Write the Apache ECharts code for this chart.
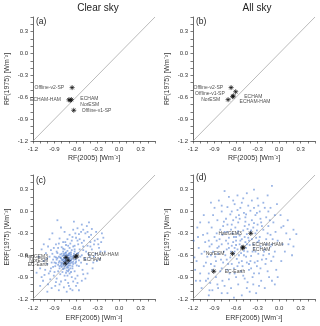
<!DOCTYPE html>
<html>
<head>
<meta charset="utf-8">
<script src="https://cdn.jsdelivr.net/npm/echarts@6/dist/echarts.min.js"></script>
<style>
  html, body { margin: 0; padding: 0; background: #fff; }
  #chart { width: 320px; height: 326px; }
</style>
</head>
<body>
<div id="chart"></div>
<script>
// tick labels shared by all four panels
const tickLabels = ['-1.2', '-0.9', '-0.6', '-0.3', '0.0', '0.3'];

// (a) clear sky RF
const clearRfNames = ['Offline-v2-SP', 'ECHAM-HAM', 'ECHAM', 'NorESM', 'Offline-v1-SP'];
const clearRf2005 = [-0.655, -0.70, -0.665, -0.68, -0.632];
const clearRf1975 = [-0.468, -0.635, -0.632, -0.642, -0.779];

// (b) all sky RF
const allRfNames = ['Offline-v2-SP', 'Offline-v1-SP', 'ECHAM', 'ECHAM-HAM', 'NorESM'];
const allRf2005 = [-0.669, -0.605, -0.638, -0.648, -0.711];
const allRf1975 = [-0.468, -0.525, -0.583, -0.592, -0.633];

// (c) clear sky ERF, model means
const clearErfNames = ['HadGEM3', 'NorESM', 'EC-Earth', 'ECHAM-HAM', 'ECHAM'];
const clearErf2005 = [-0.74, -0.71, -0.75, -0.59, -0.61];
const clearErf1975 = [-0.63, -0.67, -0.71, -0.61, -0.625];

// (d) all sky ERF, model means
const allErfNames = ['HadGEM3', 'ECHAM-HAM', 'ECHAM', 'NorESM', 'EC-Earth'];
const allErf2005 = [-0.395, -0.50, -0.51, -0.65, -0.911];
const allErf1975 = [-0.30, -0.49, -0.50, -0.578, -0.82];

// (c) individual ensemble members (ERF2005, ERF1975)
const clearErfMembers = [
  [-0.78,-0.66],[-0.75,-0.70],[-0.72,-0.64],[-0.70,-0.68],[-0.74,-0.62],[-0.80,-0.72],[-0.68,-0.71],[-0.76,-0.75],
  [-0.71,-0.60],[-0.66,-0.65],[-0.83,-0.68],[-0.79,-0.61],[-0.73,-0.77],[-0.69,-0.63],[-0.64,-0.69],[-0.77,-0.58],
  [-0.81,-0.64],[-0.72,-0.72],[-0.67,-0.59],[-0.75,-0.67],[-0.70,-0.74],[-0.62,-0.62],[-0.85,-0.73],[-0.78,-0.79],
  [-0.74,-0.56],[-0.65,-0.75],[-0.82,-0.59],[-0.71,-0.66],[-0.76,-0.63],[-0.69,-0.57],[-0.63,-0.58],[-0.87,-0.66],
  [-0.80,-0.76],[-0.73,-0.81],[-0.68,-0.78],[-0.60,-0.66],[-0.84,-0.62],[-0.77,-0.69],[-0.72,-0.54],[-0.66,-0.53],
  [-0.79,-0.83],[-0.89,-0.75],[-0.61,-0.71],[-0.75,-0.60],[-0.70,-0.80],[-0.86,-0.57],[-0.64,-0.61],[-0.81,-0.70],
  [-0.74,-0.73],[-0.67,-0.67],[-0.78,-0.55],[-0.69,-0.85],[-0.58,-0.63],[-0.83,-0.78],[-0.76,-0.52],[-0.62,-0.55],
  [-0.90,-0.70],[-0.72,-0.88],[-0.59,-0.58],[-0.88,-0.63],
  [-0.77,-0.64],[-0.73,-0.68],[-0.71,-0.70],[-0.69,-0.66],[-0.75,-0.65],[-0.79,-0.70],[-0.67,-0.62],[-0.72,-0.61],
  [-0.74,-0.71],[-0.70,-0.64],[-0.76,-0.68],[-0.68,-0.74],[-0.80,-0.66],[-0.66,-0.70],[-0.73,-0.59],[-0.78,-0.74],
  [-0.71,-0.77],[-0.82,-0.63],[-0.65,-0.63],[-0.74,-0.66],[-0.77,-0.60],[-0.70,-0.71],[-0.63,-0.66],[-0.84,-0.70],
  [-0.76,-0.78],[-0.69,-0.60],[-0.81,-0.74],[-0.72,-0.75],[-0.67,-0.56],[-0.61,-0.60],[-0.86,-0.64],[-0.75,-0.57],
  [-0.79,-0.67],[-0.68,-0.68],[-0.64,-0.72],[-0.73,-0.63],[-0.83,-0.75],[-0.71,-0.82],[-0.60,-0.69],[-0.88,-0.71],
  [-0.77,-0.72],[-0.70,-0.58],[-0.65,-0.78],[-0.80,-0.58],[-0.74,-0.84],[-0.62,-0.52],[-0.57,-0.57],[-0.85,-0.82],
  [-0.90,-0.62],[-0.56,-0.67],[-0.78,-0.51],[-0.69,-0.50],[-0.64,-0.48],[-0.92,-0.76],[-0.82,-0.86],[-0.76,-0.88],
  [-0.67,-0.83],[-0.54,-0.62],[-0.59,-0.74],[-0.87,-0.55],
  [-0.95,-0.78],[-0.92,-0.66],[-0.98,-0.85],[-0.91,-0.88],[-0.55,-0.52],[-0.52,-0.60],[-0.50,-0.48],[-0.57,-0.45],
  [-0.62,-0.47],[-0.68,-0.44],[-0.74,-0.46],[-0.80,-0.49],[-0.85,-0.50],[-0.93,-0.58],[-1.00,-0.72],[-1.03,-0.80],
  [-0.96,-0.93],[-0.87,-0.92],[-0.81,-0.96],[-0.75,-0.94],[-0.66,-0.90],[-0.62,-0.82],[-0.56,-0.75],[-0.53,-0.70],
  [-0.48,-0.64],[-0.46,-0.55],[-0.44,-0.47],[-0.49,-0.40],[-0.55,-0.38],[-0.60,-0.36],[-0.66,-0.40],[-0.72,-0.38],
  [-0.78,-0.42],[-0.88,-0.45],[-0.97,-0.62],[-1.05,-0.68],[-1.08,-0.90],[-0.99,-1.00],[-0.89,-1.02],[-0.77,-1.04],
  [-0.71,-0.98],[-0.64,-0.96],[-0.58,-0.88],[-0.51,-0.80],[-0.45,-0.72],[-0.41,-0.62],[-0.38,-0.52],[-0.40,-0.42],
  [-0.42,-0.35],[-0.47,-0.30],[-0.53,-0.28],[-0.61,-0.30],[-0.69,-0.32],[-0.83,-0.37],[-0.91,-0.50],[-1.02,-0.57],
  [-1.10,-0.78],[-1.06,-0.95],[-0.94,-1.05],[-0.84,-1.08],
  [-0.94,-0.70],[-0.96,-0.82],[-0.88,-0.97],[-0.70,-1.02],[-0.61,-0.92],[-0.50,-0.86],[-0.47,-0.66],[-0.43,-0.58],
  [-0.50,-0.53],[-0.52,-0.43],[-0.58,-0.40],[-0.65,-0.35],[-0.75,-0.42],[-0.84,-0.44],[-0.95,-0.53],[-1.01,-0.65],
  [-1.04,-0.87],[-0.58,-0.98],[-0.40,-0.48],[-0.35,-0.62],[-0.34,-0.40],[-0.29,-0.45],[-0.44,-0.28],[-0.56,-0.31],
  [-0.71,-0.47],[-0.90,-0.83],[-0.83,-1.00],[-0.65,-1.08],[-0.39,-0.32],[-0.26,-0.55],
  [-0.73,-1.10],[-0.68,-1.06],[-0.35,-0.45],[-0.33,-0.58],[-0.30,-0.38],[-0.28,-0.50],[-0.25,-0.42],[-0.22,-0.36],
  [-0.27,-0.65],[-0.36,-0.70],[-0.32,-0.28],[-0.38,-0.24],[-0.45,-0.20],[-0.52,-0.18],[-0.58,-0.23],[-0.64,-0.25],
  [-0.76,-0.28],[-0.86,-0.12],[-0.97,-0.38],[-1.05,-0.45],[-1.12,-0.62],[-1.15,-0.84],[-1.10,-1.02],[-1.00,-1.10],
  [-0.60,-1.02],[-0.52,-0.95],[-0.44,-0.85],[-0.37,-0.78],[-0.20,-0.55],[-0.24,-0.30],[-0.63,-0.14],[-0.50,-0.25],
  [-1.08,-0.52],[-0.93,-0.30],[-0.56,-1.08],[-0.47,-0.92],[-0.31,-0.68],[-0.42,-0.15],[-0.81,-0.22],[-0.99,-0.48]
];

// (d) individual ensemble members (ERF2005, ERF1975)
const allErfMembers = [
  [-0.52,-0.48],[-0.47,-0.42],[-0.58,-0.52],[-0.44,-0.55],[-0.60,-0.40],[-0.38,-0.38],[-0.55,-0.33],[-0.66,-0.47],
  [-0.49,-0.60],[-0.41,-0.46],[-0.63,-0.58],[-0.35,-0.50],[-0.57,-0.27],[-0.70,-0.36],[-0.45,-0.31],[-0.30,-0.42],
  [-0.68,-0.63],[-0.52,-0.68],[-0.39,-0.61],[-0.61,-0.22],[-0.48,-0.20],[-0.33,-0.30],[-0.73,-0.52],[-0.26,-0.48],
  [-0.54,-0.40],[-0.43,-0.36],[-0.65,-0.30],[-0.36,-0.22],[-0.59,-0.65],[-0.46,-0.50],[-0.71,-0.44],[-0.29,-0.58],
  [-0.50,-0.26],[-0.62,-0.50],[-0.40,-0.68],[-0.56,-0.60],[-0.75,-0.60],[-0.32,-0.36],[-0.44,-0.24],[-0.67,-0.25],
  [-0.55,-0.45],[-0.42,-0.40],[-0.62,-0.55],[-0.48,-0.35],[-0.36,-0.45],[-0.58,-0.30],[-0.70,-0.50],[-0.33,-0.55],
  [-0.46,-0.62],[-0.52,-0.38],[-0.64,-0.42],[-0.39,-0.26],[-0.28,-0.40],[-0.56,-0.70],[-0.73,-0.66],[-0.45,-0.45],
  [-0.60,-0.35],[-0.31,-0.26],[-0.49,-0.54],[-0.67,-0.55],
  [-0.80,-0.45],[-0.85,-0.58],[-0.78,-0.70],[-0.88,-0.68],[-0.92,-0.55],[-0.83,-0.38],[-0.76,-0.28],[-0.72,-0.18],
  [-0.64,-0.12],[-0.55,-0.10],[-0.47,-0.08],[-0.38,-0.12],[-0.30,-0.18],[-0.22,-0.25],[-0.18,-0.38],[-0.20,-0.52],
  [-0.24,-0.66],[-0.31,-0.75],[-0.42,-0.80],[-0.53,-0.82],[-0.63,-0.78],[-0.72,-0.80],[-0.82,-0.82],[-0.95,-0.72],
  [-1.00,-0.62],[-0.97,-0.48],[-0.90,-0.35],[-0.82,-0.25],[-0.77,-0.14],[-0.68,-0.04],[-0.58,0.02],[-0.49,-0.02],
  [-0.40,0.01],[-0.33,-0.05],[-0.26,-0.10],[-0.15,-0.20],[-0.12,-0.32],[-0.10,-0.45],[-0.14,-0.58],[-0.19,-0.72],
  [-0.28,-0.85],[-0.37,-0.90],[-0.48,-0.92],[-0.60,-0.90],[-0.70,-0.93],[-0.79,-0.95],[-0.88,-0.90],[-0.98,-0.85],
  [-1.05,-0.75],[-1.08,-0.58],[-1.03,-0.42],[-0.94,-0.22],[-0.86,-0.12],[-0.80,0.00],[-0.72,0.06],[-0.62,0.10],
  [-0.52,0.12],[-0.43,0.08],[-0.35,0.05],[-0.27,0.00],[-0.18,-0.08],[-0.08,-0.15],[-0.05,-0.28],[-0.02,-0.40],
  [-0.06,-0.55],[-0.11,-0.68],[-0.16,-0.82],[-0.25,-0.95],[-0.36,-1.00],[-0.45,-1.05],[-0.57,-1.00],[-0.67,-1.05],
  [-0.76,-1.02],[-0.86,-1.00],[-0.93,-1.08],[-1.02,-0.95],[-1.10,-0.85],[-1.15,-0.68],[-1.12,-0.50],[-1.06,-0.32],
  [-0.84,-0.48],[-0.95,-0.60],[-0.90,-0.75],[-0.80,-0.78],[-0.71,-0.72],[-0.62,-0.85],[-0.50,-0.88],[-0.39,-0.78],
  [-0.30,-0.68],[-0.21,-0.55],[-0.16,-0.30],[-0.25,-0.15],[-0.35,-0.16],[-0.46,-0.04],[-0.56,-0.05],[-0.66,-0.18],
  [-0.78,-0.20],[-0.87,-0.30],[-0.98,-0.40],[-1.02,-0.70],
  [-0.98,-0.15],[-0.90,0.05],[-0.84,0.15],[-0.70,0.20],[-0.58,0.22],[-0.45,0.25],[-0.30,0.18],[-0.22,0.12],
  [-0.12,0.05],[-0.10,0.35],[-0.03,0.10],[0.02,-0.05],[0.06,-0.20],[0.10,-0.30],[0.15,-0.38],[0.24,-0.31],
  [0.20,-0.48],[0.08,-0.55],[0.03,-0.68],[-0.04,-0.80],[-0.10,-0.95],[-0.20,-1.05],[-0.32,-1.12],[-0.52,-1.15],
  [-0.63,-1.18],[-0.80,-1.12],[-0.97,-1.08],[-1.08,-1.05],[-1.16,-0.95],[-1.18,-0.63],[-1.19,-0.40],[-1.14,-0.22],
  [-1.05,-0.05],[-0.95,0.12],[-0.76,0.28],[-0.35,0.30],[-0.16,0.22],[0.12,-0.12],[0.18,-0.60],[-0.06,-1.00],
  [-1.10,-0.95],[-0.98,-1.15],[-0.85,-1.05],[-0.72,-1.12],[-0.41,-1.10],[-0.28,-1.02],[-0.14,-0.90],[-0.02,-0.90],
  [0.05,-0.45],[0.13,-0.45],[0.20,-0.25],[0.03,-0.22],[-0.06,-0.05],[-0.15,0.00],[-0.20,0.05],[-0.38,0.15],
  [-0.50,0.18],[-0.64,0.15],[-0.80,0.08],[-0.92,-0.05],
  [-0.66,-0.72],[-0.74,-0.10],[-0.40,-0.28],[-0.27,-0.35],[-0.51,-0.75],[-0.86,-0.50],[-0.93,-0.80],[-0.35,-0.85],
  [-0.12,-0.48],[-0.57,-0.15],[-0.22,-0.60],[-0.81,-0.66],[-0.63,-0.35],[-0.47,-0.14],[-0.69,-0.85],[-1.00,-0.30],
  [-0.29,0.08],[-0.08,-0.62],[-0.44,-0.97],[-0.89,-0.62],[-0.54,0.05],[-0.18,-0.45],[-0.74,-0.40],[-0.37,-0.55],
  [-0.60,-0.46],[-0.42,-0.72],[-0.79,-0.32],[-0.24,-0.20],[-0.66,0.00],[-0.96,-0.98],
  [-1.10,-0.15],[-1.13,-0.35],[-1.17,-0.80],[-1.04,-0.55],[-0.99,-0.92],[-0.58,-0.75],[-0.34,-0.70],[-0.18,-0.65],
  [-0.09,-0.38],[-0.13,-0.12],[-0.31,-0.02],[-0.42,-0.18],[-0.60,-0.08],[-0.72,-0.28],[-0.87,-0.40],[-0.94,-0.45],
  [-0.77,-0.55],[-0.53,-0.57],[-0.26,-0.78],[-0.45,-0.70]
];

const FONT = '"Liberation Sans", Arial, sans-serif';
const AXIS_MIN = -1.2;
const AXIS_MAX = 0.5;

// label placement per panel: [position, distance, dy]
const labelLayout = {
  a: { 'Offline-v2-SP': ['left', 5, 0], 'ECHAM-HAM': ['left', 5, 0], 'ECHAM': ['right', 6, -1],
       'NorESM': ['right', 7, 4], 'Offline-v1-SP': ['right', 5, 0] },
  b: { 'Offline-v2-SP': ['left', 5, 0], 'Offline-v1-SP': ['left', 8, 2], 'ECHAM': ['right', 8, 1],
       'ECHAM-HAM': ['right', 4, 5], 'NorESM': ['left', 5, 0] },
  c: { 'HadGEM3': ['left', 15, -1], 'NorESM': ['left', 17, 0], 'EC-Earth': ['left', 14, 1],
       'ECHAM-HAM': ['right', 8, -1], 'ECHAM': ['right', 5, 3] },
  d: { 'HadGEM3': ['left', 6, 0], 'ECHAM-HAM': ['right', 6, -3], 'ECHAM': ['right', 7, 2],
       'NorESM': ['left', 5, 0], 'EC-Earth': ['right', 8, 0] }
};

const grids = [
  { left: 33, top: 17, width: 122, height: 124 },
  { left: 193, top: 17, width: 122, height: 124 },
  { left: 33, top: 175, width: 122, height: 124 },
  { left: 193, top: 175, width: 122, height: 124 }
];

const xNames = ['RF(2005) [Wm⁻²]', 'RF(2005) [Wm⁻²]', 'ERF(2005) [Wm⁻²]', 'ERF(2005) [Wm⁻²]'];
const yNames = ['RF(1975) [Wm⁻²]', 'RF(1975) [Wm⁻²]', 'ERF(1975) [Wm⁻²]', 'ERF(1975) [Wm⁻²]'];

function axisBase(i, name, isY) {
  return {
    type: 'value',
    gridIndex: i,
    min: AXIS_MIN,
    max: AXIS_MAX,
    interval: 0.1,
    name: name,
    nameLocation: 'middle',
    nameGap: isY ? 22 : (i < 2 ? 14 : 16),
    nameTextStyle: { fontSize: 7, color: '#333', fontFamily: FONT },
    axisLine: { show: true, onZero: false, lineStyle: { color: '#444', width: 0.8 } },
    axisTick: { show: true, inside: false, length: 2.5, lineStyle: { color: '#444', width: 0.7 } },
    splitLine: { show: false },
    axisLabel: {
      fontSize: 6,
      color: '#333',
      fontFamily: FONT,
      margin: isY ? 5 : (i < 2 ? 5 : 6),
      formatter: function (v) {
        const s = (Math.round(v * 10) / 10).toFixed(1);
        return tickLabels.includes(s) ? s : '';
      }
    }
  };
}

const starSymbol = 'path://M5,0L5,10M0,5L10,5M1.5,1.5L8.5,8.5M1.5,8.5L8.5,1.5';

function modelSeries(i, key, names, xs, ys) {
  return {
    type: 'scatter',
    xAxisIndex: i,
    yAxisIndex: i,
    symbol: starSymbol,
    symbolSize: 5,
    z: 5,
    itemStyle: { color: 'rgba(0,0,0,0)', borderColor: '#111', borderWidth: 0.9 },
    data: names.map(function (n, k) {
      const lay = labelLayout[key][n];
      return {
        name: n,
        value: [xs[k], ys[k]],
        label: { position: lay[0], distance: lay[1] }
      };
    }),
    label: {
      show: true,
      formatter: '{b}',
      fontSize: 5,
      color: '#222',
      fontFamily: FONT
    },
    labelLayout: function (p) {
      return { dy: labelLayout[key][names[p.dataIndex]][2], hideOverlap: false };
    }
  };
}

function diagSeries(i) {
  return {
    type: 'line',
    xAxisIndex: i,
    yAxisIndex: i,
    symbol: 'none',
    silent: true,
    z: 1,
    lineStyle: { color: '#aaa', width: 0.8 },
    data: [[AXIS_MIN, AXIS_MIN], [AXIS_MAX, AXIS_MAX]]
  };
}

function cloudSeries(i, pts) {
  return {
    type: 'scatter',
    xAxisIndex: i,
    yAxisIndex: i,
    symbol: 'rect',
    symbolSize: 1.8,
    z: 2,
    silent: true,
    itemStyle: { color: 'rgba(60,112,205,0.65)' },
    data: pts
  };
}

const chart = echarts.init(document.getElementById('chart'), null, { renderer: 'canvas' });

const option = {
  animation: false,
  backgroundColor: '#fff',
  grid: grids,
  xAxis: [0, 1, 2, 3].map(function (i) { return axisBase(i, xNames[i], false); }),
  yAxis: [0, 1, 2, 3].map(function (i) { return axisBase(i, yNames[i], true); }),
  graphic: [
    { type: 'text', x: 98, y: 8, style: { text: 'Clear sky', fill: '#222', font: '10px ' + FONT, textAlign: 'center', textVerticalAlign: 'middle' } },
    { type: 'text', x: 257, y: 8, style: { text: 'All sky', fill: '#222', font: '10px ' + FONT, textAlign: 'center', textVerticalAlign: 'middle' } },
    { type: 'text', x: 36, y: 22, style: { text: '(a)', fill: '#222', font: '8.5px ' + FONT, textVerticalAlign: 'middle' } },
    { type: 'text', x: 196, y: 22, style: { text: '(b)', fill: '#222', font: '8.5px ' + FONT, textVerticalAlign: 'middle' } },
    { type: 'text', x: 36, y: 181, style: { text: '(c)', fill: '#222', font: '8.5px ' + FONT, textVerticalAlign: 'middle' } },
    { type: 'text', x: 196, y: 178, style: { text: '(d)', fill: '#222', font: '8.5px ' + FONT, textVerticalAlign: 'middle' } }
  ],
  series: [
    diagSeries(0),
    modelSeries(0, 'a', clearRfNames, clearRf2005, clearRf1975),
    diagSeries(1),
    modelSeries(1, 'b', allRfNames, allRf2005, allRf1975),
    diagSeries(2),
    cloudSeries(2, clearErfMembers),
    modelSeries(2, 'c', clearErfNames, clearErf2005, clearErf1975),
    diagSeries(3),
    cloudSeries(3, allErfMembers),
    modelSeries(3, 'd', allErfNames, allErf2005, allErf1975)
  ]
};

chart.setOption(option);
</script>
</body>
</html>
